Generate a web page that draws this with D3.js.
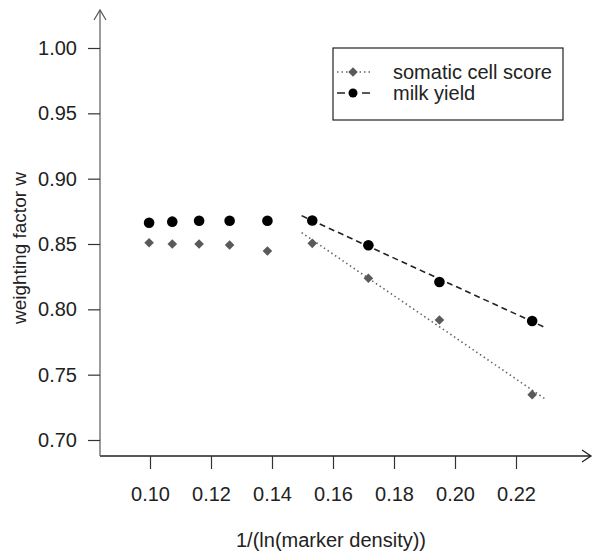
<!DOCTYPE html>
<html>
<head>
<meta charset="utf-8">
<script src="https://cdn.jsdelivr.net/npm/d3@7"></script>
<style>
  html, body { margin: 0; padding: 0; background: #fff; }
  svg { display: block; font-family: "Liberation Sans", Arial, sans-serif; }
</style>
</head>
<body>
<svg id="chart" width="593" height="554"></svg>
<script>
// ---- data ----
const xValues = [0.0997, 0.1073, 0.1161, 0.1261, 0.1385, 0.1532, 0.1716, 0.1949, 0.2253];
const milkYield = [0.8663, 0.8671, 0.8678, 0.8678, 0.8678, 0.8680, 0.8490, 0.8209, 0.7911];
const somaticCellScore = [0.8510, 0.8500, 0.8500, 0.8492, 0.8446, 0.8505, 0.8238, 0.7918, 0.7347];
const milkFitX = [0.1497, 0.2290];
const milkFitY = [0.8717, 0.7867];
const scsFitX = [0.1497, 0.2297];
const scsFitY = [0.8587, 0.7312];
const xTicks = [0.10, 0.12, 0.14, 0.16, 0.18, 0.20, 0.22];
const yTicks = [0.70, 0.75, 0.80, 0.85, 0.90, 0.95, 1.00];
const seriesNames = ["somatic cell score", "milk yield"];
const xTitle = "1/(ln(marker density))";
const yTitle = "weighting factor w";

// ---- layout ----
const svg = d3.select("#chart");
const x = d3.scaleLinear().domain([0.10, 0.22]).range([150, 516]);
const y = d3.scaleLinear().domain([0.70, 1.00]).range([440, 48]);
const axisX0 = 100, axisY0 = 456, axisXEnd = 591, axisYEnd = 10;

// axes lines with open arrowheads
svg.append("line").attr("x1", axisX0).attr("x2", axisXEnd).attr("y1", axisY0).attr("y2", axisY0)
  .attr("stroke", "#222").attr("stroke-width", 1.3);
svg.append("path").attr("d", `M${axisXEnd-9},${axisY0-6}L${axisXEnd},${axisY0}L${axisXEnd-9},${axisY0+6}`)
  .attr("fill", "none").attr("stroke", "#222").attr("stroke-width", 1.3);
svg.append("line").attr("x1", axisX0).attr("x2", axisX0).attr("y1", axisY0).attr("y2", axisYEnd)
  .attr("stroke", "#666").attr("stroke-width", 1.3);
svg.append("path").attr("d", `M${axisX0-6},${axisYEnd+10}L${axisX0},${axisYEnd}L${axisX0+6},${axisYEnd+10}`)
  .attr("fill", "none").attr("stroke", "#555").attr("stroke-width", 1.2);

// x axis ticks
const gx = svg.append("g").attr("transform", `translate(0,${axisY0})`)
  .call(d3.axisBottom(x).tickValues(xTicks).tickSize(13).tickPadding(18).tickFormat(d3.format(".2f")));
gx.select(".domain").remove();
gx.selectAll(".tick line").attr("stroke", "#333").attr("stroke-width", 1.2);
gx.selectAll(".tick text").attr("font-size", 20).attr("fill", "#222").attr("font-family", "Liberation Sans, Arial, sans-serif");

// y axis ticks
const gy = svg.append("g").attr("transform", `translate(${axisX0},0)`)
  .call(d3.axisLeft(y).tickValues(yTicks).tickSize(12).tickPadding(11).tickFormat(d3.format(".2f")));
gy.select(".domain").remove();
gy.selectAll(".tick line").attr("stroke", "#333").attr("stroke-width", 1.2);
gy.selectAll(".tick text").attr("font-size", 20).attr("fill", "#222").attr("font-family", "Liberation Sans, Arial, sans-serif");

// titles
svg.append("text").attr("x", 331).attr("y", 547).attr("text-anchor", "middle")
  .attr("font-size", 20).attr("fill", "#222").text(xTitle);
svg.append("text").attr("transform", "translate(26,248) rotate(-90)").attr("text-anchor", "middle")
  .attr("font-size", 19).attr("fill", "#222").text(yTitle);

// fit lines
const line = d3.line().x(d => x(d[0])).y(d => y(d[1]));
svg.append("path").datum(d3.zip(scsFitX, scsFitY)).attr("d", line)
  .attr("fill", "none").attr("stroke", "#666").attr("stroke-width", 1.6).attr("stroke-dasharray", "1.5,3");
svg.append("path").datum(d3.zip(milkFitX, milkFitY)).attr("d", line)
  .attr("fill", "none").attr("stroke", "#222").attr("stroke-width", 1.6).attr("stroke-dasharray", "6,4");

// points
const diamond = d3.symbol().type(d3.symbolSquare).size(46);
svg.append("g").selectAll("path").data(d3.zip(xValues, somaticCellScore)).join("path")
  .attr("d", diamond)
  .attr("transform", d => `translate(${x(d[0])},${y(d[1])}) rotate(45)`)
  .attr("fill", "#5a5a5a");
svg.append("g").selectAll("circle").data(d3.zip(xValues, milkYield)).join("circle")
  .attr("cx", d => x(d[0])).attr("cy", d => y(d[1])).attr("r", 5.3).attr("fill", "#000");

// legend
const lg = svg.append("g");
lg.append("rect").attr("x", 333).attr("y", 48).attr("width", 230).attr("height", 72)
  .attr("fill", "#fff").attr("stroke", "#222").attr("stroke-width", 1.2);
const rows = [72, 93];
lg.append("line").attr("x1", 337).attr("x2", 370).attr("y1", rows[0]).attr("y2", rows[0])
  .attr("stroke", "#666").attr("stroke-width", 1.6).attr("stroke-dasharray", "1.5,3");
lg.append("path").attr("d", diamond).attr("transform", `translate(353,${rows[0]}) rotate(45)`).attr("fill", "#5a5a5a");
lg.append("line").attr("x1", 337).attr("x2", 370).attr("y1", rows[1]).attr("y2", rows[1])
  .attr("stroke", "#222").attr("stroke-width", 1.6).attr("stroke-dasharray", "8,17");
lg.append("circle").attr("cx", 353).attr("cy", rows[1]).attr("r", 4.5).attr("fill", "#000");
lg.selectAll("text.leg").data(seriesNames).join("text").attr("class", "leg")
  .attr("x", 393).attr("y", (d, i) => rows[i]).attr("dy", "0.35em")
  .attr("font-size", 20).attr("fill", "#222").text(d => d);
</script>
</body>
</html>
